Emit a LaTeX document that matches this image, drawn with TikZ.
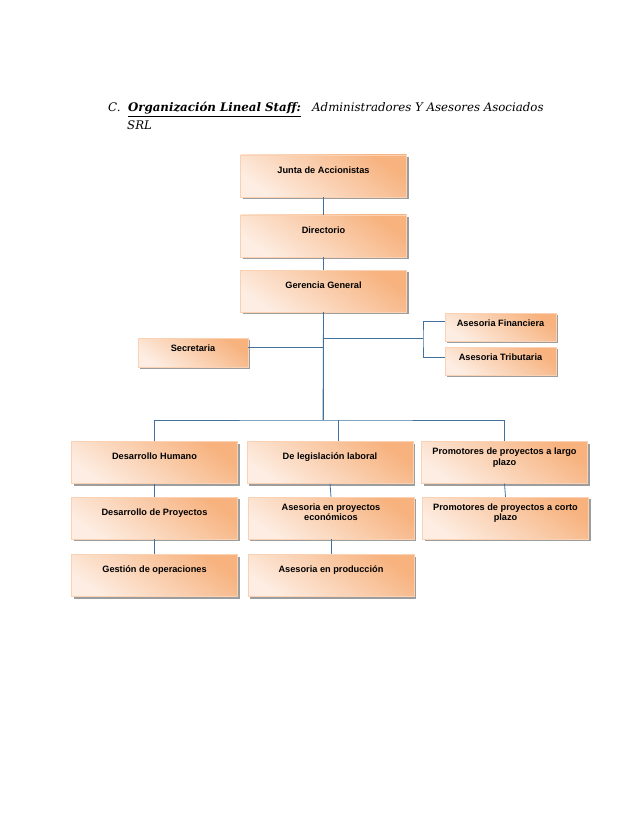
\documentclass[tikz,border=0pt]{standalone}
\usepackage{fontspec}
\setmainfont{Liberation Sans}
\newfontfamily\titlefont{DejaVu Serif}
\usetikzlibrary{shadows}
\definecolor{linkblue}{HTML}{41719C}
\definecolor{boxlight}{HTML}{FDEDE2}
\definecolor{boxdark}{HTML}{F7B27E}
\tikzset{
  box/.style={draw=boxdark!60!white, line width=0.2pt, top color=boxdark, bottom color=boxlight,
    shading angle=-35, drop shadow={shadow xshift=2pt, shadow yshift=-2pt, fill=black!55, opacity=.7},
    align=center, font=\fontsize{9.2}{10.6}\selectfont\bfseries, inner sep=1pt},
  big/.style={box, minimum width=166pt, minimum height=42pt, text depth=12pt},
  small/.style={box, minimum width=111pt, minimum height=28pt, text depth=8pt},
  link/.style={draw=linkblue, line width=0.8pt},
  title/.style={font=\titlefont\itshape\fontsize{11.8}{14}\selectfont, inner sep=0pt}
}
\begin{document}
\begin{tikzpicture}[x=1pt,y=-1pt]
\useasboundingbox (0,0) rectangle (638,826);
% heading
\node[title,anchor=base west] (tc) at (108,112) {C.\ \ {\bfseries\underline{Organización Lineal Staff:}}\ \ \ Administradores Y Asesores Asociados};
\node[title,anchor=base west] (tsrl) at (127,130) {SRL};
% line
\node[big] (junta) at (323.5,176) {Junta de Accionistas};
\node[big] (dir) at (323.5,236) {Directorio};
\node[big] (gg) at (323.5,291) {Gerencia General};
% staff
\node[small] (asf) at (500.5,327) {Asesoria Financiera};
\node[small] (ast) at (500.5,361) {Asesoria Tributaria};
\node[small, minimum width=110pt, minimum height=29pt] (sec) at (193,352.5) {Secretaria};
% areas
\node[big] (dh) at (154.5,462.5) {Desarrollo Humano};
\node[big] (dl) at (330,462.5) {De legislación laboral};
\node[big] (pl) at (504.5,462.5) {Promotores de proyectos a largo\\plazo};
\node[big] (dp) at (154.5,518) {Desarrollo de Proyectos};
\node[big] (ape) at (331,518) {Asesoria en proyectos\\económicos};
\node[big] (pc) at (505.5,518) {Promotores de proyectos a corto\\plazo};
\node[big] (go) at (154.5,575.5) {Gestión de operaciones};
\node[big] (apr) at (331,575.5) {Asesoria en producción};
\coordinate (bus) at (323,420);
\coordinate (fork) at (423,338);
\draw[link] (junta.south) -- (dir.north);
\draw[link] (dir.south) -- (gg.north);
\draw[link] (gg.south) -- (bus);
\draw[link] ([yshift=5pt]sec.east) -| (bus);
\draw[link] (bus) |- (fork);
\draw[link] ([yshift=6pt]asf.west) -| (fork) |- ([yshift=4pt]ast.west);
\draw[link] (dh.north) |- (bus) -| (pl.north);
\draw[link] ([xshift=8pt]dl.north) -- ([xshift=8pt]dl.north |- bus);
\draw[link] (dh.south) -- (dp.north);
\draw[link] (dp.south) -- (go.north);
\draw[link] (dl.south) -- (ape.north);
\draw[link] (ape.south) -- (apr.north);
\draw[link] (pl.south) -- (pc.north);
\end{tikzpicture}
\end{document}
